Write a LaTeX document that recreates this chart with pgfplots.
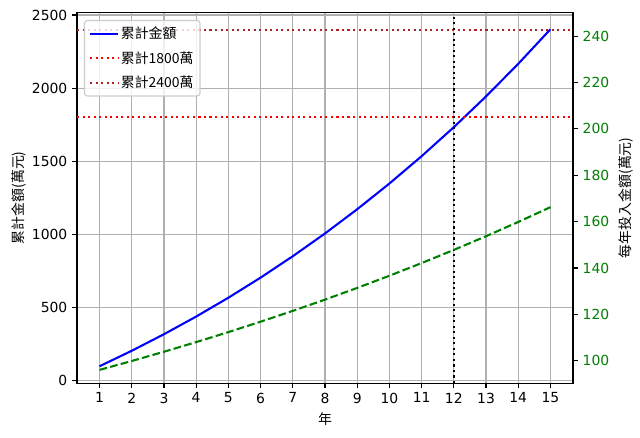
\documentclass[border=0pt]{standalone}
\usepackage{fontspec}
\setmainfont{DejaVu Sans}
\newfontfamily\cjk{Noto Sans CJK TC}
\usepackage{pgfplots}
\usepackage{pgfplotstable}
\pgfplotsset{compat=1.18}
\definecolor{mplblue}{HTML}{0000FF}
\definecolor{mplgreen}{HTML}{008000}
\definecolor{mplred}{HTML}{FF0000}
\definecolor{mpldarkred}{HTML}{B22222}
\definecolor{gridgray}{HTML}{B0B0B0}
\definecolor{legframe}{HTML}{CCCCCC}

% year, cumulative amount (left axis)
\pgfplotstableread{
year total
1 98.88
2 204.68
3 317.77
4 438.53
5 567.37
6 704.70
7 850.96
8 1006.61
9 1172.13
10 1348.03
11 1534.83
12 1733.10
13 1943.40
14 2166.35
15 2402.57
}\totaltab

% year, yearly contribution (right axis)
\pgfplotstableread{
year yearly
1 96.00
2 99.84
3 103.83
4 107.99
5 112.31
6 116.80
7 121.47
8 126.33
9 131.38
10 136.64
11 142.10
12 147.79
13 153.70
14 159.85
15 166.24
}\yearlytab

\begin{document}
\fontsize{13.9}{16.7}\selectfont
\begin{tikzpicture}
\pgfplotsset{
  twin/.style={
    scale only axis,
    width=496pt, height=370.7pt,
    xmin=0.3, xmax=15.7,
    tick align=outside,
    major tick length=4.86pt,
    every tick/.style={black, line width=1.11pt},
    axis line style={line width=1.11pt},
    /pgf/number format/assume math mode=true,
    /pgf/number format/1000 sep={},
    tick label style={font=\fontsize{13.9}{16.7}\selectfont},
    label style={font=\cjk\fontsize{13.9}{16.7}\selectfont},
  },
}
\begin{axis}[
  twin,
  xtick pos=bottom, ytick pos=left,
  ymin=-16.3, ymax=2517.8,
  xtick={1,...,15},
  ytick={0,500,...,2500},
  scaled y ticks=false,
  grid=major,
  major grid style={gridgray, line width=1.11pt},
  xlabel={年},
  ylabel={累計金額(萬元)},
  ylabel style={yshift=-4pt},
  legend cell align=left,
  legend image code/.code={\draw[#1] (0pt,0pt) -- (27.8pt,0pt);},
  legend style={
    at={(0,1)}, anchor=north west, xshift=7pt, yshift=-7.5pt,
    draw=legframe, rounded corners=2.8pt, line width=1.11pt,
    fill=white, fill opacity=0.8, text opacity=1,
    font=\cjk\fontsize{13.9}{16.7}\selectfont,
    row sep=6.5pt, inner sep=4.5pt,
    /tikz/every even column/.append style={column sep=7pt},
  },
]
\addplot[mplblue, line width=2.08pt] table[x=year, y=total] {\totaltab};
\addlegendentry{累計金額}
\addplot[mplred, line width=2.08pt, dash pattern=on 2.08pt off 3.44pt]
  coordinates {(0.3,1800) (15.7,1800)};
\addlegendentry{累計1800萬}
\addplot[mpldarkred, line width=2.08pt, dash pattern=on 2.08pt off 3.44pt]
  coordinates {(0.3,2400) (15.7,2400)};
\addlegendentry{累計2400萬}
\addplot[black, line width=2.08pt, dash pattern=on 2.08pt off 3.44pt, forget plot]
  coordinates {(12,-16.3) (12,2517.8)};
\end{axis}
\begin{axis}[
  twin,
  axis y line*=right, axis x line=none,
  ymin=90.3, ymax=250.3,
  ytick={100,120,...,240},
  yticklabel style={text=mplgreen},
  ylabel={每年投入金額(萬元)},
]
\addplot[mplgreen, line width=2.08pt, dash pattern=on 7.7pt off 3.3pt]
  table[x=year, y=yearly] {\yearlytab};
\end{axis}
\pgfresetboundingbox
\path[use as bounding box] (-77pt,-54.9pt) rectangle (563pt,383.1pt);
\end{tikzpicture}
\end{document}
